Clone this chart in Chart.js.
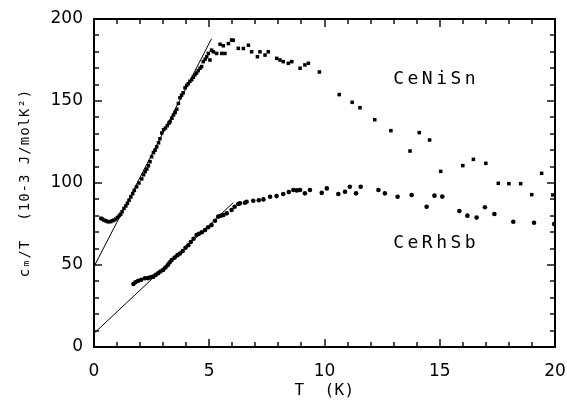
<!DOCTYPE html>
<html>
<head>
<meta charset="utf-8">
<script src="https://cdn.jsdelivr.net/npm/chart.js@4"></script>
<style>
  html, body { margin: 0; padding: 0; background: #fff; overflow: hidden; }
  #wrap { position: absolute; left: 0; top: 0; width: 567px; height: 403px; }
</style>
</head>
<body>
<div id="wrap"><canvas id="chart"></canvas></div>
<script>
// CeNiSn (squares)
const niT = [0.30, 0.36, 0.43, 0.50, 0.58, 0.65, 0.72, 0.80, 0.87, 0.95, 1.02, 1.10, 1.16, 1.22, 1.30, 1.38, 1.45, 1.52, 1.60, 1.68,
  1.75, 1.85, 1.95, 2.07, 2.15, 2.22, 2.29, 2.36, 2.43, 2.50, 2.58, 2.65, 2.72, 2.80, 2.86, 2.94, 3.02, 3.10, 3.18, 3.25,
  3.30, 3.38, 3.45, 3.52, 3.59, 3.66, 3.73, 3.80, 3.87, 3.95, 4.02, 4.09, 4.16, 4.24, 4.31, 4.38, 4.45, 4.52, 4.60, 4.67,
  4.74, 4.82, 4.89, 4.96, 5.03, 5.10, 5.18, 5.32, 5.47, 5.54, 5.61, 5.68, 5.83, 5.97, 6.04, 6.26, 6.48, 6.70, 6.84, 7.09,
  7.20, 7.42, 7.56, 7.93, 8.07, 8.21, 8.43, 8.58, 8.94, 9.15, 9.30, 9.78, 10.64, 11.20, 11.54, 12.18, 12.88, 13.71, 14.11, 14.56,
  15.04, 16.00, 16.46, 17.00, 17.54, 18.00, 18.51, 18.99, 19.42, 19.90];
const niY = [78.5, 78, 77.4, 77, 76.5, 76.4, 76.5, 77, 77.4, 78, 79, 80.2, 81, 82.5, 84.5, 86, 87.6, 89.5, 91.5, 93.5,
  95.5, 97.7, 100, 102.5, 105, 107, 108.5, 110.5, 113, 116, 118.5, 120, 122, 124.5, 127, 130.5, 132.5, 133.5, 135, 136.5,
  137.4, 139.5, 141.5, 143, 145, 148.5, 152, 153.5, 155, 158, 159.5, 160.5, 162, 163, 164.5, 166, 167, 168.5, 170, 171,
  174, 175.5, 177, 179, 175, 181, 180, 179, 184.6, 179, 183.7, 179, 185, 187.2, 187, 182.1, 182, 184, 180, 177,
  180, 178, 180, 176, 175, 174, 173, 174, 170, 172, 173, 167.7, 153.9, 149.2, 145.9, 138.6, 131.9, 119.5, 130.7, 126.2,
  107.1, 110.6, 114.4, 112, 99.8, 99.6, 99.6, 92.9, 105.9, 92.7];

// CeRhSb (dots)
const rhT = [1.71, 1.80, 1.92, 2.05, 2.21, 2.35, 2.45, 2.57, 2.68, 2.78, 2.88, 3.00, 3.10, 3.20, 3.28, 3.37, 3.50, 3.62, 3.73, 3.85,
  3.97, 4.09, 4.20, 4.32, 4.45, 4.55, 4.68, 4.82, 4.95, 5.10, 5.25, 5.39, 5.50, 5.61, 5.76, 5.97, 6.10, 6.26, 6.33, 6.55,
  6.62, 6.91, 7.15, 7.35, 7.64, 7.92, 8.21, 8.45, 8.65, 8.80, 8.94, 9.15, 9.37, 9.88, 10.10, 10.60, 10.89, 11.10, 11.37, 11.57,
  12.34, 12.62, 13.17, 13.78, 14.43, 14.77, 15.11, 15.85, 16.20, 16.60, 16.96, 17.37, 18.19, 19.09, 19.96];
const rhY = [38.4, 39.5, 40.4, 41, 41.9, 42, 42.5, 42.9, 44, 45, 46, 47, 48.5, 50, 51.5, 53, 54.5, 56, 57, 58.5,
  60.5, 62, 64, 66, 68.3, 69, 70, 71.3, 73, 74.4, 77, 79.5, 80, 80.5, 81.5, 83.5, 85.5, 87.2, 87.6, 88,
  88.6, 89.2, 89.5, 90, 91.6, 92, 93.3, 94.5, 95.7, 95.5, 95.7, 93.7, 95.7, 94, 96.7, 93.3, 94.7, 97.7, 93.7, 97.7,
  95.7, 93.7, 91.6, 92.7, 85.5, 92.3, 91.7, 82.9, 80.1, 78.9, 85.2, 81.1, 76.4, 75.8, 75];

// straight low-T fits
const niFitT = [0, 5.1];
const niFitY = [49, 188];
const rhFitT = [0, 6.04];
const rhFitY = [8.3, 88];

const xTicks = [0, 5, 10, 15, 20];
const yTicks = [0, 50, 100, 150, 200];

const toPts = (xs, ys) => xs.map((x, i) => ({ x: x, y: ys[i] }));

// frame and inward ticks on all four sides
const framePlugin = {
  id: "frame",
  afterDatasetsDraw(chart) {
    const ctx = chart.ctx;
    const a = chart.chartArea;
    const xs = chart.scales.x;
    const ys = chart.scales.y;
    ctx.save();
    ctx.fillStyle = "#000";
    const w = a.right - a.left;
    const h = a.bottom - a.top;
    ctx.fillRect(a.left - 1, a.top - 1, w + 2, 2);
    ctx.fillRect(a.left - 1, a.bottom - 1, w + 2, 2);
    ctx.fillRect(a.left - 1, a.top - 1, 2, h + 2);
    ctx.fillRect(a.right - 1, a.top - 1, 2, h + 2);
    for (let v = 1; v < 20; v++) {
      const px = Math.round(xs.getPixelForValue(v));
      const len = v % 5 === 0 ? 8 : 5;
      ctx.fillRect(px - 0.7, a.bottom - len, 1.4, len);
      ctx.fillRect(px - 0.7, a.top, 1.4, len);
    }
    for (let v = 10; v < 200; v += 10) {
      const py = Math.round(ys.getPixelForValue(v));
      const len = v % 50 === 0 ? 8 : 5;
      ctx.fillRect(a.left, py - 0.7, len, 1.4);
      ctx.fillRect(a.right - len, py - 0.7, len, 1.4);
    }
    ctx.restore();
  },
  afterDraw(chart) {
    const ctx = chart.ctx;
    const a = chart.chartArea;
    const xs = chart.scales.x;
    const ys = chart.scales.y;
    ctx.save();
    ctx.fillStyle = "#000";
    ctx.textBaseline = "middle";
    ctx.textAlign = "left";
    ctx.font = '18px "DejaVu Sans Mono"';
    ctx.letterSpacing = "3.5px";
    ctx.fillText("CeNiSn", xs.getPixelForValue(12.98), ys.getPixelForValue(163.5));
    ctx.fillText("CeRhSb", xs.getPixelForValue(12.98), ys.getPixelForValue(63));

    ctx.font = '16px "DejaVu Sans Mono"';
    ctx.letterSpacing = "0.4px";
    ctx.textAlign = "center";
    ctx.fillText("T  (K)", (a.left + a.right) / 2, 391);

    ctx.translate(25, (a.top + a.bottom) / 2);
    ctx.rotate(-Math.PI / 2);
    ctx.font = '14px "DejaVu Sans Mono"';
    ctx.letterSpacing = "1px";
    ctx.fillText("c\u2098/T  (10-3 J/molK\u00b2)", 0, 0);
    ctx.restore();
  }
};

new Chart(document.getElementById("chart"), {
  type: "scatter",
  data: {
    datasets: [
      {
        label: "CeNiSn",
        data: toPts(niT, niY),
        pointStyle: "rect",
        pointRadius: 2.5,
        backgroundColor: "#000",
        borderColor: "#000",
        borderWidth: 0,
      },
      {
        label: "CeRhSb",
        data: toPts(rhT, rhY),
        pointStyle: "circle",
        pointRadius: 2.3,
        backgroundColor: "#000",
        borderColor: "#000",
        borderWidth: 0,
      },
      {
        label: "fit CeNiSn",
        data: toPts(niFitT, niFitY),
        showLine: true,
        pointRadius: 0,
        borderColor: "#000",
        borderWidth: 1,
      },
      {
        label: "fit CeRhSb",
        data: toPts(rhFitT, rhFitY),
        showLine: true,
        pointRadius: 0,
        borderColor: "#000",
        borderWidth: 1,
      },
    ],
  },
  options: {
    responsive: true,
    maintainAspectRatio: false,
    animation: false,
    layout: { padding: { top: 19, right: 12, left: 0, bottom: 0 } },
    plugins: {
      legend: { display: false },
      tooltip: { enabled: false },
    },
    scales: {
      x: {
        type: "linear",
        min: 0,
        max: 20,
        afterBuildTicks: (scale) => {
          scale.ticks = xTicks.map((v) => ({ value: v }));
        },
        afterFit: (scale) => {
          scale.height = 56;
          scale.paddingLeft = 0;
          scale.paddingRight = 0;
        },
        grid: { display: false, drawTicks: false },
        border: { display: false },
        ticks: {
          color: "#000",
          padding: 14,
          maxRotation: 0,
          font: { family: "DejaVu Sans", size: 17 },
        },
      },
      y: {
        type: "linear",
        min: 0,
        max: 200,
        afterBuildTicks: (scale) => {
          scale.ticks = yTicks.map((v) => ({ value: v }));
        },
        afterFit: (scale) => {
          scale.width = 94;
          scale.paddingTop = 0;
          scale.paddingBottom = 0;
        },
        grid: { display: false, drawTicks: false },
        border: { display: false },
        ticks: {
          color: "#000",
          padding: 11,
          font: { family: "DejaVu Sans", size: 17 },
        },
      },
    },
  },
  plugins: [framePlugin],
});
</script>
</body>
</html>
